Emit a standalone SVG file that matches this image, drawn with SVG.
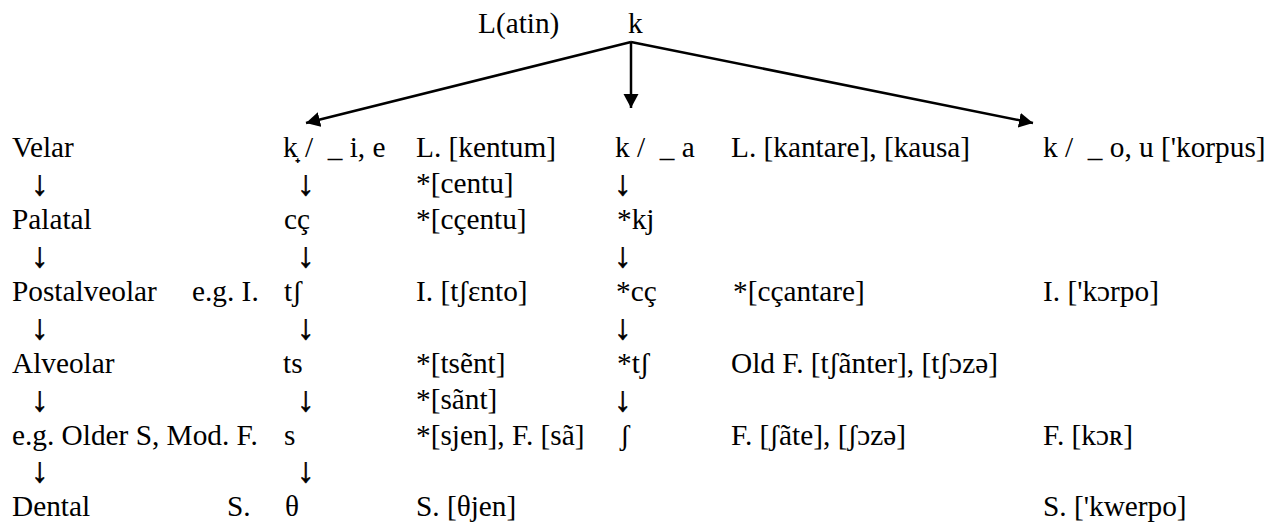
<svg xmlns="http://www.w3.org/2000/svg" width="1266" height="525" viewBox="0 0 1266 525" xml:space="preserve" font-family="Liberation Serif, serif">
<style>
text { font-family: "Liberation Serif", serif; font-size: 29.3px; fill: #000; white-space: pre; }
text.dn { font-size: 35px; stroke: #000; stroke-width: 0.6; }
.conn { stroke: #000; stroke-width: 2.5; fill: none; }
</style>
<defs>
<marker id="ah" markerUnits="userSpaceOnUse" markerWidth="16" markerHeight="16" refX="14" refY="7.5" orient="auto">
<path d="M0,0 L14,7.5 L0,15 Z" fill="#000"/>
</marker>
</defs>
<rect width="1266" height="525" fill="#fff"/>
<g id="root">
<text x="478" y="33">L(atin)</text>
<text x="628" y="33">k</text>
</g>
<g id="connectors">
<line class="conn" x1="631" y1="42" x2="306" y2="123" marker-end="url(#ah)"/>
<line class="conn" x1="631" y1="42" x2="631" y2="108" marker-end="url(#ah)"/>
<line class="conn" x1="631" y1="42" x2="1033" y2="123" marker-end="url(#ah)"/>
</g>
<g id="scale">
<text x="12" y="157">Velar</text>
<text class="dn" x="31" y="194.5">↓</text>
<text x="12" y="229">Palatal</text>
<text class="dn" x="31" y="266.5">↓</text>
<text x="12" y="301">Postalveolar</text>
<text class="dn" x="31" y="338.5">↓</text>
<text x="12" y="373">Alveolar</text>
<text class="dn" x="31" y="410.5">↓</text>
<text x="12" y="445">e.g. Older S, Mod. F.</text>
<text class="dn" x="31" y="482">↓</text>
<text x="12" y="516">Dental</text>
</g>
<g id="language-notes">
<text x="192" y="301">e.g. I.</text>
<text x="227" y="516">S.</text>
</g>
<g id="branch-front">
<text x="283" y="157">k̟ /  _ i, e</text>
<text class="dn" x="297" y="194.5">↓</text>
<text x="284" y="229">cç</text>
<text class="dn" x="297" y="266.5">↓</text>
<text x="284" y="301">tʃ</text>
<text class="dn" x="297" y="338.5">↓</text>
<text x="283" y="373">ts</text>
<text class="dn" x="297" y="410.5">↓</text>
<text x="284" y="445">s</text>
<text class="dn" x="297" y="482">↓</text>
<text x="285" y="516">θ</text>
</g>
<g id="front-examples">
<text x="416" y="157">L. [kentum]</text>
<text x="416" y="193">*[centu]</text>
<text x="416" y="229">*[cçentu]</text>
<text x="416" y="301">I. [tʃɛnto]</text>
<text x="416" y="373">*[tsẽnt]</text>
<text x="416" y="409">*[sãnt]</text>
<text x="416" y="445">*[sjen], F. [sã]</text>
<text x="416" y="516">S. [θjen]</text>
</g>
<g id="branch-a">
<text x="615" y="157">k /  _ a</text>
<text class="dn" x="614" y="194.5">↓</text>
<text x="617" y="229">*kj</text>
<text class="dn" x="614" y="266.5">↓</text>
<text x="616" y="301">*cç</text>
<text class="dn" x="614" y="338.5">↓</text>
<text x="617" y="373">*tʃ</text>
<text class="dn" x="614" y="410.5">↓</text>
<text x="620" y="445">ʃ</text>
</g>
<g id="a-examples">
<text x="731" y="157">L. [kantare], [kausa]</text>
<text x="733" y="301">*[cçantare]</text>
<text x="731" y="373">Old F. [tʃãnter], [tʃɔzə]</text>
<text x="731" y="445">F. [ʃãte], [ʃɔzə]</text>
</g>
<g id="branch-back">
<text x="1043" y="157">k /  _ o, u ['korpus]</text>
<text x="1043" y="301">I. ['kɔrpo]</text>
<text x="1043" y="445">F. [kɔʀ]</text>
<text x="1043" y="516">S. ['kwerpo]</text>
</g>
</svg>
